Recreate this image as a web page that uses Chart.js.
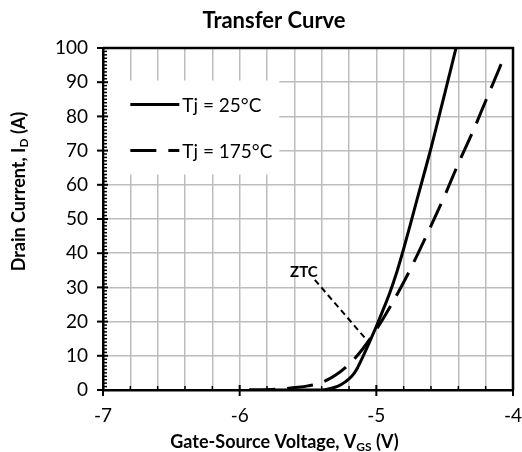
<!DOCTYPE html>
<html>
<head>
<meta charset="utf-8">
<script src="https://cdn.jsdelivr.net/npm/chart.js@4.4.1/dist/chart.umd.min.js"></script>
<style>
  html, body { margin: 0; padding: 0; background: #fff; }
  #wrap { width: 522px; height: 452px; }
</style>
</head>
<body>
<div id="wrap"><canvas id="c" width="522" height="452"></canvas></div>
<script>
// Transfer characteristic: drain current vs gate-source voltage
const vgs25  = [-5.93, -5.6, -5.45, -5.38, -5.33, -5.28, -5.23, -5.18, -5.14, -5.1, -5.05, -5.0, -4.95, -4.9, -4.85, -4.8, -4.75, -4.7, -4.65, -4.6, -4.55, -4.5, -4.45, -4.417];
const id25   = [0, 0, 0, 0.1, 0.5, 1.1, 2.3, 4.0, 6.3, 9.6, 14.0, 18.6, 23.5, 28.6, 34.5, 41.3, 48.6, 56.0, 63.3, 70.7, 78.6, 86.6, 94.6, 100];
const vgs175 = [-5.93, -5.8, -5.7, -5.6, -5.5, -5.4, -5.3, -5.2, -5.1, -5.0, -4.9, -4.8, -4.7, -4.6, -4.5, -4.4, -4.3, -4.2, -4.1, -4.07];
const id175  = [0, 0.1, 0.3, 0.7, 1.2, 2.2, 4.3, 7.5, 12.0, 17.7, 24.3, 31.5, 39.5, 48.0, 56.8, 66.2, 75.0, 84.5, 94.0, 97.0];

const seriesNames = ['Tj = 25°C', 'Tj = 175°C'];
const xTickValues = [-7, -6, -5, -4];
const yTickValues = [0, 10, 20, 30, 40, 50, 60, 70, 80, 90, 100];

// zero-temperature-coefficient callout: label anchor and leader line ends
const ztcLabel  = { text: 'ZTC', x: -5.53, y: 34.5 };
const ztcLeader = { vgs: [-5.45, -5.07], id: [32.2, 14.6] };

const chartTitle = 'Transfer Curve';
const xTitle = ['Gate-Source Voltage, V', 'GS', ' (V)'];
const yTitle = ['Drain Current, I', 'D', ' (A)'];

const toPoints = (xs, ys) => xs.map((x, i) => ({ x: x, y: ys[i] }));
const FONT = 'Lato, "Open Sans", sans-serif';
const LONG_DASH = [26, 12];

// draws "main + subscript + tail" starting at x, baseline y
function drawSubText(ctx, parts, x, y, size) {
  ctx.font = 'bold ' + size + 'px ' + FONT;
  ctx.fillText(parts[0], x, y);
  let w = ctx.measureText(parts[0]).width;
  ctx.font = 'bold ' + Math.round(size * 0.66) + 'px ' + FONT;
  ctx.fillText(parts[1], x + w, y + size * 0.14);
  w += ctx.measureText(parts[1]).width;
  ctx.font = 'bold ' + size + 'px ' + FONT;
  ctx.fillText(parts[2], x + w, y);
}
function subTextWidth(ctx, parts, size) {
  ctx.font = 'bold ' + size + 'px ' + FONT;
  let w = ctx.measureText(parts[0]).width + ctx.measureText(parts[2]).width;
  ctx.font = 'bold ' + Math.round(size * 0.66) + 'px ' + FONT;
  return w + ctx.measureText(parts[1]).width;
}

const decorations = {
  id: 'decorations',
  beforeDatasetsDraw(chart) {
    // legend panel sits inside the plot, over the grid
    const ctx = chart.ctx, xs = chart.scales.x, ys = chart.scales.y;
    const left = xs.getPixelForValue(-7) + 1.5;
    const right = xs.getPixelForValue(-5.71);
    const top = ys.getPixelForValue(90.5);
    const bottom = ys.getPixelForValue(63);
    ctx.save();
    ctx.fillStyle = '#ffffff';
    ctx.fillRect(left, top, right - left, bottom - top);
    ctx.strokeStyle = '#000';
    ctx.lineWidth = 3;
    const sx0 = xs.getPixelForValue(-6.8), sx1 = sx0 + 49;
    const rows = [ys.getPixelForValue(83.5), ys.getPixelForValue(70)];
    ctx.font = '19px ' + FONT;
    ctx.fillStyle = '#000';
    ctx.textBaseline = 'middle';
    rows.forEach((ry, i) => {
      ctx.setLineDash(i === 0 ? [] : LONG_DASH);
      ctx.beginPath();
      ctx.moveTo(sx0, ry);
      ctx.lineTo(sx1, ry);
      ctx.stroke();
      ctx.fillText(seriesNames[i], sx1 + 3, ry + 1);
    });
    ctx.restore();
  },
  afterDraw(chart) {
    const ctx = chart.ctx, xs = chart.scales.x, ys = chart.scales.y;
    const a = chart.chartArea;
    ctx.save();
    ctx.strokeStyle = '#000';
    ctx.fillStyle = '#000';
    ctx.setLineDash([]);
    // top and right frame
    ctx.lineWidth = 2.5;
    ctx.beginPath();
    ctx.moveTo(a.left, a.top); ctx.lineTo(a.right, a.top); ctx.lineTo(a.right, a.bottom);
    ctx.stroke();
    // minor ticks (inside) and major ticks (crossing)
    ctx.lineWidth = 1.5;
    for (let v = 1; v < 100; v++) {
      if (v % 10 === 0) continue;
      const py = ys.getPixelForValue(v);
      ctx.beginPath(); ctx.moveTo(a.left, py); ctx.lineTo(a.left + 4, py); ctx.stroke();
    }
    for (let k = 1; k < 15; k++) {
      if (k % 5 === 0) continue;
      const px = xs.getPixelForValue(-7 + k * 0.2);
      ctx.beginPath(); ctx.moveTo(px, a.bottom); ctx.lineTo(px, a.bottom - 4); ctx.stroke();
    }
    ctx.lineWidth = 2;
    yTickValues.forEach(v => {
      const py = ys.getPixelForValue(v);
      ctx.beginPath(); ctx.moveTo(a.left - 6, py); ctx.lineTo(a.left + 5, py); ctx.stroke();
    });
    xTickValues.forEach(v => {
      const px = xs.getPixelForValue(v);
      ctx.beginPath(); ctx.moveTo(px, a.bottom - 5); ctx.lineTo(px, a.bottom + 6); ctx.stroke();
    });
    // callout label
    ctx.font = 'bold 15px ' + FONT;
    ctx.textAlign = 'center';
    ctx.textBaseline = 'middle';
    ctx.fillText(ztcLabel.text, xs.getPixelForValue(ztcLabel.x), ys.getPixelForValue(ztcLabel.y));
    // chart title
    ctx.font = 'bold 22px ' + FONT;
    ctx.fillText(chartTitle, 274, 21);
    // axis titles with subscripts
    ctx.textAlign = 'left';
    ctx.textBaseline = 'alphabetic';
    const xw = subTextWidth(ctx, xTitle, 18);
    drawSubText(ctx, xTitle, 284.5 - xw / 2, 448, 18);
    ctx.translate(25, 191.5);
    ctx.rotate(-Math.PI / 2);
    const yw = subTextWidth(ctx, yTitle, 18);
    drawSubText(ctx, yTitle, -yw / 2, 0, 18);
    ctx.restore();
  }
};

const isInt = v => Math.abs(v - Math.round(v)) < 1e-6;

new Chart(document.getElementById('c'), {
  type: 'scatter',
  data: {
    datasets: [
      {
        label: seriesNames[0],
        data: toPoints(vgs25, id25),
        showLine: true,
        borderColor: '#000',
        borderWidth: 3,
        pointRadius: 0,
        cubicInterpolationMode: 'monotone'
      },
      {
        label: seriesNames[1],
        data: toPoints(vgs175, id175),
        showLine: true,
        borderColor: '#000',
        borderWidth: 3,
        borderDash: LONG_DASH,
        pointRadius: 0,
        cubicInterpolationMode: 'monotone'
      },
      {
        label: 'ZTC',
        data: toPoints(ztcLeader.vgs, ztcLeader.id),
        showLine: true,
        borderColor: '#000',
        borderWidth: 2,
        borderDash: [6, 4],
        pointRadius: 0
      }
    ]
  },
  options: {
    responsive: false,
    animation: false,
    devicePixelRatio: 1,
    layout: { padding: { top: 48, right: 0, left: 0, bottom: 0 } },
    plugins: { legend: { display: false }, title: { display: false }, tooltip: { enabled: false } },
    scales: {
      x: {
        type: 'linear',
        min: -7, max: -4,
        afterFit: s => { s.height = 62; s.paddingLeft = 0; s.paddingRight = 9; },
        afterBuildTicks: s => {
          const t = [];
          for (let k = 0; k <= 15; k++) t.push({ value: Math.round((-7 + k * 0.2) * 10) / 10 });
          s.ticks = t;
        },
        ticks: {
          autoSkip: false, maxRotation: 0, padding: 14,
          color: '#000', font: { family: FONT, size: 19 },
          callback: v => isInt(v) ? String(Math.round(v)) : ''
        },
        grid: { drawTicks: false, color: '#bdbdbd', lineWidth: 1.5 },
        border: { color: '#000', width: 2.5 }
      },
      y: {
        type: 'linear',
        min: 0, max: 100,
        afterFit: s => { s.width = 103; },
        afterBuildTicks: s => { s.ticks = yTickValues.map(v => ({ value: v })); },
        ticks: {
          padding: 15,
          color: '#000', font: { family: FONT, size: 19 }
        },
        grid: { drawTicks: false, color: '#bdbdbd', lineWidth: 1.5 },
        border: { color: '#000', width: 2.5 }
      }
    }
  },
  plugins: [decorations]
});
</script>
</body>
</html>
